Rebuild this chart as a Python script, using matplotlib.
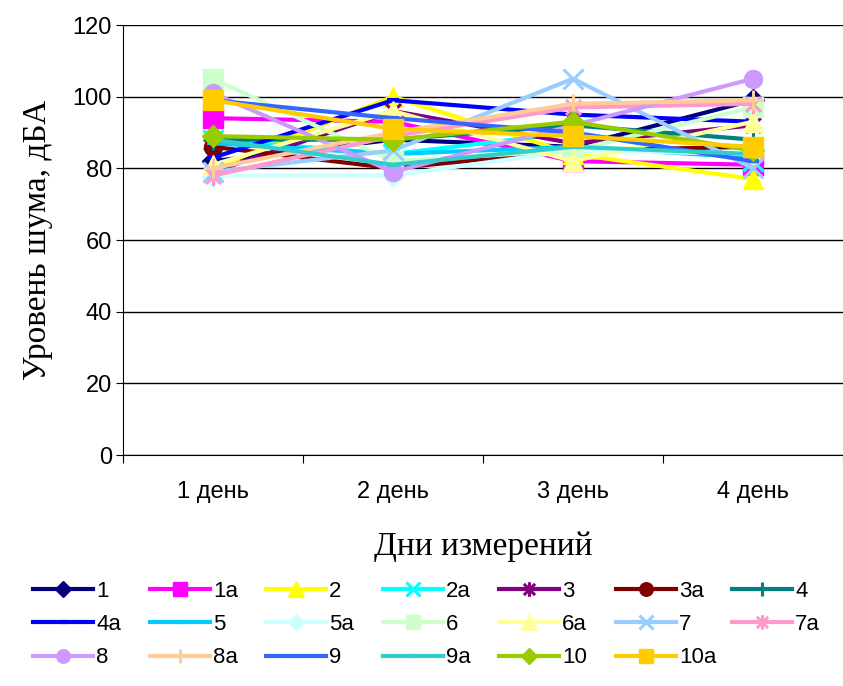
import matplotlib
matplotlib.use("Agg")
import matplotlib.pyplot as plt
from matplotlib.path import Path

# days of measurement
days = ["1 день", "2 день", "3 день", "4 день"]

# noise level per point, dBA
s1 = [82, 88, 86, 99]
s1a = [94, 93, 82, 81]
s2 = [80, 100, 84, 77]
s2a = [88, 84, 90, 82]
s3 = [79, 96, 87, 92]
s3a = [86, 80, 85, 86]
s4 = [88, 88, 92, 88]
s4a = [83, 99, 95, 93]
s5 = [87, 84, 86, 83]
s5a = [78, 78, 85, 84]
s6 = [105, 82, 85, 97]
s6a = [81, 96, 82, 93]
s7 = [79, 85, 105, 80]
s7a = [78, 89, 97, 98]
s8 = [101, 79, 92, 105]
s8a = [80, 90, 98, 99]
s9 = [99, 94, 90, 82]
s9a = [88, 81, 86, 84]
s10 = [89, 88, 93, 85]
s10a = [99, 91, 89, 86]

names = ["1", "1a", "2", "2a", "3", "3a", "4", "4a", "5", "5a",
         "6", "6a", "7", "7a", "8", "8a", "9", "9a", "10", "10a"]
series = [s1, s1a, s2, s2a, s3, s3a, s4, s4a, s5, s5a,
          s6, s6a, s7, s7a, s8, s8a, s9, s9a, s10, s10a]
colors = ["#000080", "#FF00FF", "#FFFF00", "#00FFFF", "#800080", "#800000",
          "#008080", "#0000FF", "#00CCFF", "#CCFFFF", "#CCFFCC", "#FFFF99",
          "#99CCFF", "#FF99CC", "#CC99FF", "#FFCC99", "#3366FF", "#33CCCC",
          "#99CC00", "#FFCC00"]

# excel-like star: an x with a vertical bar
star = Path([(-1, -1), (1, 1), (-1, 1), (1, -1), (0, -1.3), (0, 1.3)],
            [Path.MOVETO, Path.LINETO] * 3)
markers = ["D", "s", "^", "x", star, "o", "+", "_", "_", "D",
           "s", "^", "x", star, "o", "+", "_", "_", "D", "s"]

fig = plt.figure(figsize=(8.43, 6.86), dpi=100)
ax = fig.add_axes([123 / 843, 231 / 686, 720 / 843, 430 / 686])

x = [0.5, 1.5, 2.5, 3.5]
handles = []
for name, vals, c, m in zip(names, series, colors, markers):
    ms, mew = 11, 1
    if m == "s":
        ms = 14
    if m == "o":
        ms = 13
    if m == "^":
        ms = 15
    if m in ("x", "+") or m is star:
        ms, mew = 14, 2.2
    if m == "_":
        ms, mew = 8, 3
    h, = ax.plot(x, vals, color=c, lw=3, marker=m, ms=ms, mfc=c, mec=c,
                 mew=mew, label=name)
    handles.append(h)

ax.set_xlim(0, 4)
ax.set_ylim(0, 120)
ax.set_yticks(range(0, 121, 20))
ax.yaxis.grid(True, color="black", lw=1)
ax.set_axisbelow(True)
ax.set_xticks([0, 1, 2, 3, 4])
ax.set_xticklabels([])
ax.set_xticks(x, minor=True)
ax.set_xticklabels(days, minor=True, fontsize=17, family="Liberation Sans")
ax.tick_params(axis="x", which="minor", length=0, pad=19)
ax.tick_params(axis="x", which="major", length=6, direction="out")
ax.tick_params(axis="y", length=5, direction="out", pad=3, labelsize=17)
for lab in ax.get_yticklabels():
    lab.set_family("Liberation Sans")
for sp in ["top", "right"]:
    ax.spines[sp].set_visible(False)

ax.set_ylabel("Уровень шума, дБА", family="Liberation Serif", fontsize=24, labelpad=14)
ax.set_xlabel("Дни измерений", family="Liberation Serif", fontsize=24, labelpad=20)

# one legend per column so the columns sit at even steps like in Excel
ncol = 7
for j in range(ncol):
    idx = [j + ncol * r for r in range(3) if j + ncol * r < len(names)]
    leg = fig.legend([handles[i] for i in idx], [names[i] for i in idx],
                     loc="upper left",
                     bbox_to_anchor=((33 + 116.5 * j) / 843, 1 - 581 / 686),
                     frameon=False, prop={"family": "Liberation Sans", "size": 16},
                     handlelength=2.7, handletextpad=0.15,
                     labelspacing=0.55, borderaxespad=0, borderpad=0,
                     markerscale=0.75)

fig.savefig("out.png", dpi=100)
